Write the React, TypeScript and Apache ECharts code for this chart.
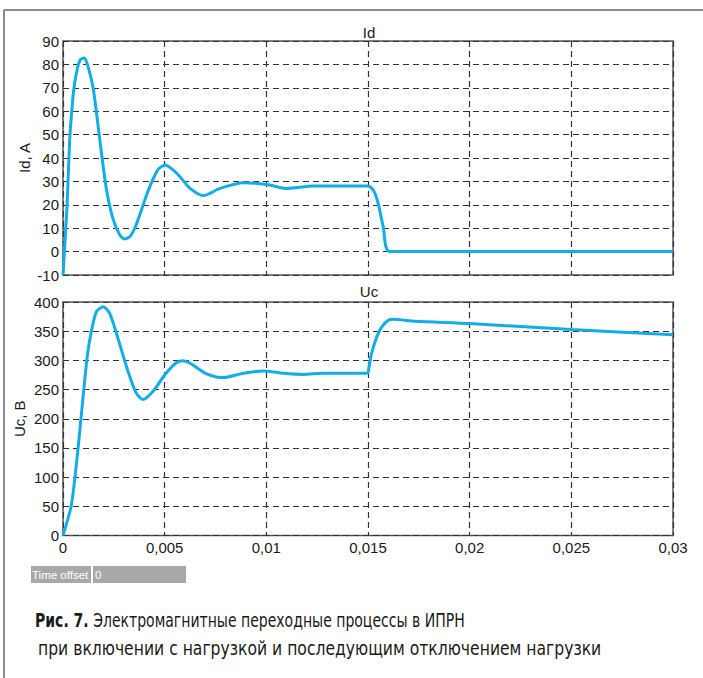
import React, { useEffect, useRef } from "react";
import * as echarts from "echarts";

// ---- data ----
const xTickLabels = ["0", "0,005", "0,01", "0,015", "0,02", "0,025", "0,03"];

const idTime = [
  0, 0.0002, 0.00033, 0.00045, 0.00054, 0.0007, 0.00085, 0.00103, 0.0012, 0.00148,
  0.0018, 0.00213, 0.00246, 0.0028, 0.00303, 0.0033, 0.0036, 0.00418, 0.00467, 0.00503,
  0.0054, 0.00575, 0.00625, 0.0069, 0.00772, 0.00887, 0.01002, 0.011, 0.0123, 0.01494,
  0.015, 0.01526, 0.0155, 0.01575, 0.01608, 0.03,
];
const idValues = [
  -10, 20, 48, 62, 70, 78, 82, 82.7, 80, 70,
  48.5, 27, 14, 7, 5.4, 6.5, 11.5, 25.8, 35, 37,
  35, 32, 27, 23.9, 27, 29.4, 28.7, 27, 28, 28,
  28, 26.3, 20.6, 10.6, 0, 0,
];

const ucTime = [
  0, 0.00041, 0.00074, 0.00098, 0.0012, 0.00139, 0.00164, 0.00197, 0.0023, 0.0027,
  0.0032, 0.0036, 0.00393, 0.00443, 0.005, 0.00557, 0.0059, 0.00625, 0.00707, 0.00788,
  0.00887, 0.00985, 0.01083, 0.01182, 0.0128, 0.01494, 0.015, 0.01517, 0.01543, 0.01567,
  0.016, 0.01625, 0.01731, 0.02, 0.025, 0.03,
];
const ucValues = [
  0, 52, 149, 235, 309, 349, 383, 392, 380, 338,
  281, 244, 233, 247, 275, 296, 299.5, 295, 277, 270.5,
  278, 282, 278, 276, 278, 278, 279, 311, 340, 357,
  368.6, 370.4, 367, 363, 352.7, 344,
];

const idTicks = { min: -10, max: 90, interval: 10 };
const ucTicks = { min: 0, max: 400, interval: 50 };

const titleTop = "Id";
const titleBottom = "Uc";
const nameTop = "Id, A";
const nameBottom = "Uc, B";
const timeOffsetLabel = "Time offset";
const timeOffsetValue = "0";
const captionBold = "Рис. 7.";
const captionLine1 = " Электромагнитные переходные процессы в ИПРН";
const captionLine2 = "при включении с нагрузкой и последующим отключением нагрузки";

const FONT = "'Liberation Sans', Arial, sans-serif";
const CAPTION_FONT = "'DejaVu Sans Condensed', 'Liberation Sans', sans-serif";
const LINE_COLOR = "#12ade9";

export default function App() {
  const ref = useRef<HTMLDivElement>(null);

  useEffect(() => {
    if (!ref.current) return;
    const chart = echarts.init(ref.current, undefined, { renderer: "svg" });

    const gridLine = { show: true, lineStyle: { color: "#333", type: [6, 4] as any, width: 1.2 } };
    const xAxisBase = {
      type: "value" as const,
      min: 0,
      max: 0.03,
      interval: 0.005,
      axisLine: { show: false },
      axisTick: { show: false },
      splitLine: gridLine,
    };
    const yAxisBase = {
      type: "value" as const,
      axisLine: { show: false },
      axisTick: { show: false },
      splitLine: gridLine,
      axisLabel: { color: "#1a1a1a", fontSize: 15, fontFamily: FONT, margin: 4 },
      nameLocation: "middle" as const,
      nameRotate: 90,
      nameMoveOverlap: false,
      nameTextStyle: { color: "#1a1a1a", fontSize: 15, fontFamily: FONT },
    };

    const option: any = {
      animation: false,
      backgroundColor: "#fff",
      grid: [
        { left: 63, top: 41, width: 610, height: 234, show: true, borderColor: "#555", borderWidth: 1.5, backgroundColor: "transparent" },
        { left: 63, top: 302, width: 610, height: 233.5, show: true, borderColor: "#555", borderWidth: 1.5, backgroundColor: "transparent" },
      ],
      xAxis: [
        { ...xAxisBase, gridIndex: 0, axisLabel: { show: false } },
        {
          ...xAxisBase,
          gridIndex: 1,
          axisLabel: {
            color: "#1a1a1a",
            fontSize: 15,
            fontFamily: FONT,
            margin: 4,
            formatter: (v: number) => xTickLabels[Math.round(v / 0.005)] ?? "",
          },
        },
      ],
      yAxis: [
        { ...yAxisBase, gridIndex: 0, ...idTicks, name: nameTop, nameGap: 31 },
        { ...yAxisBase, gridIndex: 1, ...ucTicks, name: nameBottom, nameGap: 36 },
      ],
      series: [
        {
          type: "line",
          xAxisIndex: 0,
          yAxisIndex: 0,
          data: idTime.map((t, i) => [t, idValues[i]]),
          showSymbol: false,
          smooth: 0.25,
          lineStyle: { color: LINE_COLOR, width: 3 },
          z: 5,
        },
        {
          type: "line",
          xAxisIndex: 1,
          yAxisIndex: 1,
          data: ucTime.map((t, i) => [t, ucValues[i]]),
          showSymbol: false,
          smooth: 0.25,
          lineStyle: { color: LINE_COLOR, width: 3 },
          z: 5,
        },
      ],
      graphic: [
        { type: "line", shape: { x1: 4, y1: 10, x2: 703, y2: 10 }, style: { stroke: "#666", lineWidth: 1.5 } },
        { type: "line", shape: { x1: 4, y1: 10, x2: 4, y2: 678 }, style: { stroke: "#666", lineWidth: 1.5 } },
        {
          type: "text", x: 369, y: 32,
          style: { text: titleTop, fill: "#1a1a1a", font: `15px ${FONT}`, align: "center", verticalAlign: "middle" },
        },
        {
          type: "text", x: 369, y: 291,
          style: { text: titleBottom, fill: "#1a1a1a", font: `15px ${FONT}`, align: "center", verticalAlign: "middle" },
        },
        { type: "rect", shape: { x: 31, y: 566, width: 60, height: 17 }, style: { fill: "#a7a8ab" } },
        { type: "rect", shape: { x: 93, y: 566, width: 93, height: 17 }, style: { fill: "#a7a8ab" } },
        {
          type: "text", x: 32, y: 575,
          style: { text: timeOffsetLabel, fill: "#fff", font: `11.5px ${FONT}`, verticalAlign: "middle" },
        },
        {
          type: "text", x: 95, y: 575,
          style: { text: timeOffsetValue, fill: "#fff", font: `11.5px ${FONT}`, verticalAlign: "middle" },
        },
        {
          type: "text", x: 35, y: 620, scaleX: 0.8,
          style: {
            text: `{b|${captionBold}}{r|${captionLine1}}`,
            verticalAlign: "middle",
            rich: {
              b: { fontFamily: CAPTION_FONT, fontSize: 19.5, fontWeight: "bold", fill: "#1a1a1a" },
              r: { fontFamily: CAPTION_FONT, fontSize: 19.5, fill: "#1a1a1a" },
            },
          },
        },
        {
          type: "text", x: 38, y: 648, scaleX: 0.89,
          style: { text: captionLine2, fill: "#1a1a1a", font: `19.5px ${CAPTION_FONT}`, verticalAlign: "middle" },
        },
      ],
    };

    chart.setOption(option);
    return () => chart.dispose();
  }, []);

  return (
    <div
      ref={ref}
      style={{ position: "absolute", left: 0, top: 0, width: 703, height: 678, background: "#fff" }}
    />
  );
}
